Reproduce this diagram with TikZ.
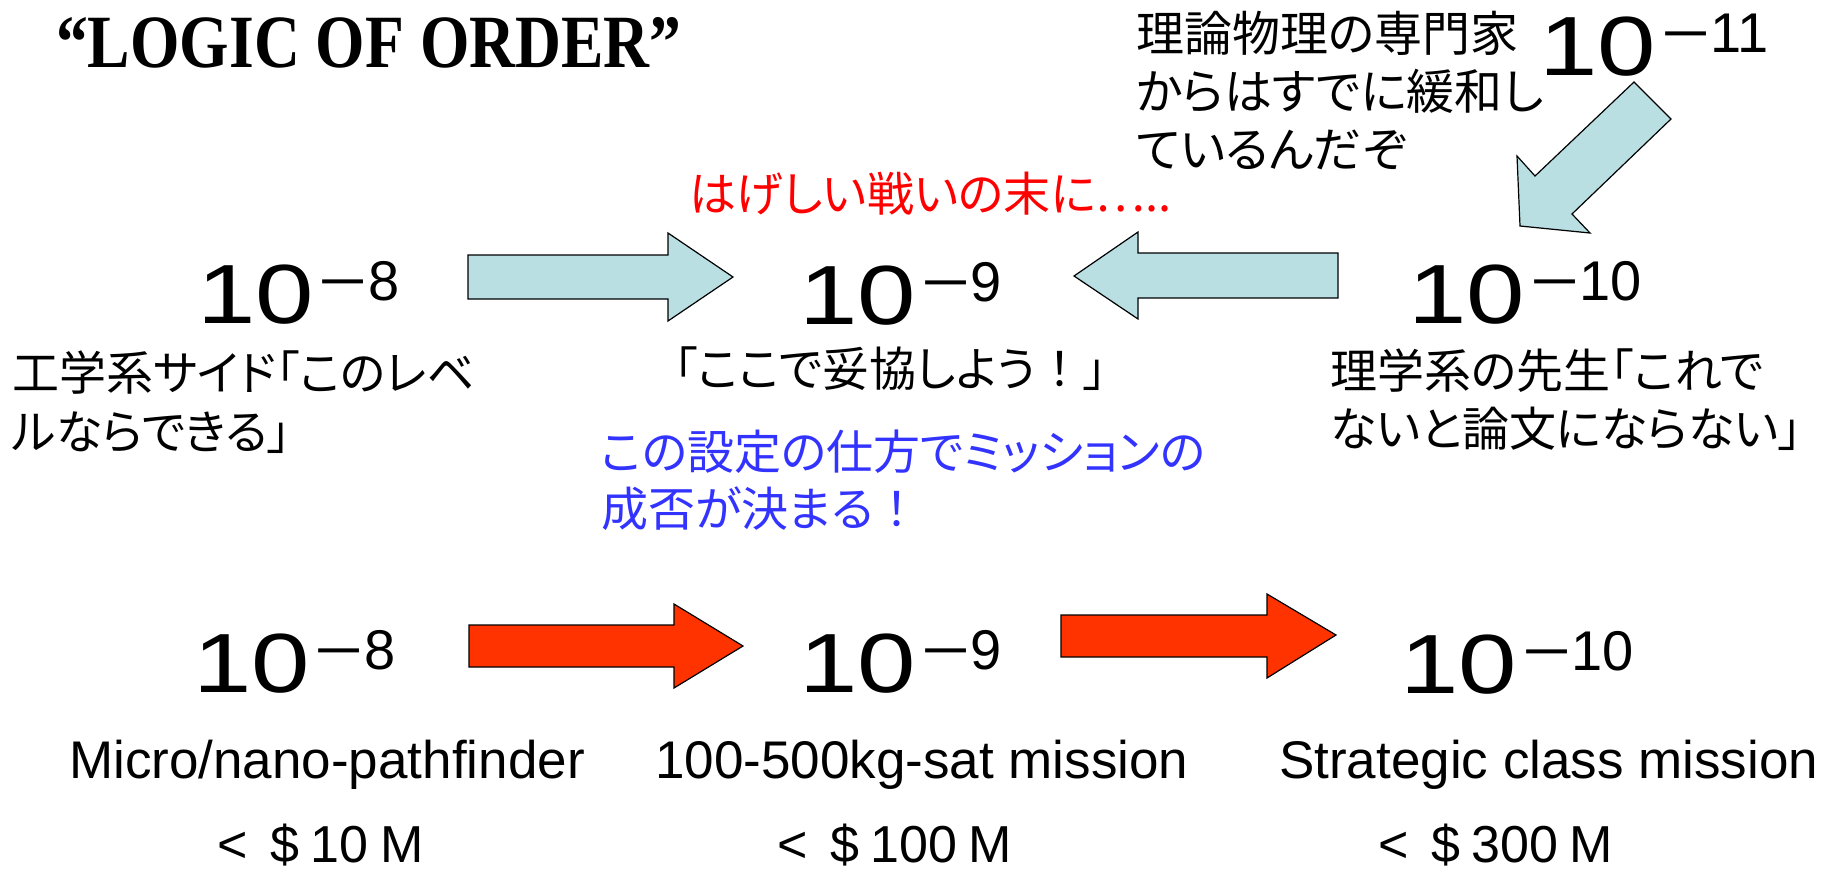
\documentclass[tikz,border=0pt]{standalone}
\usepackage{fontspec}
\usepackage{graphicx}
\setmainfont{Liberation Sans}
\newfontfamily\jpfont[RawFeature={+palt}]{Noto Sans CJK JP}
\newfontfamily\jpfw{Noto Sans CJK JP}
\newfontfamily\titlefont{Liberation Serif}
\definecolor{arrowblue}{RGB}{185,223,227}
\definecolor{arrowred}{RGB}{255,51,0}
\definecolor{txtred}{RGB}{255,0,0}
\definecolor{txtblue}{RGB}{51,51,255}
\newcommand{\tenpow}[1]{\scalebox{1.25}[1]{\fontsize{84}{84}\selectfont 10}\kern5pt\raisebox{23pt}{\fontsize{56}{56}\selectfont\scalebox{1.5}[1]{−}#1}}
\newcommand{\fwbang}{{\jpfw ！}}
\newcommand{\tightsp}{\spaceskip=0.22em\relax}
\begin{document}
\begin{tikzpicture}[x=1pt,y=-1pt,
  jp/.style={font=\jpfont\fontsize{47}{58}\selectfont, inner sep=0pt, anchor=north west, align=left},
  lat/.style={font=\fontsize{53}{60}\selectfont, inner sep=0pt, anchor=base west},
  cost/.style={font=\fontsize{52}{60}\selectfont, inner sep=0pt, anchor=base west},
  pow/.style={inner sep=0pt, anchor=base west},
  barrow/.style={draw=black, line width=1.2pt, fill=arrowblue},
  rarrow/.style={draw=black, line width=1.2pt, fill=arrowred}]
\useasboundingbox (0,0) rectangle (1831,870);
% title
\node[inner sep=0pt, anchor=base west] (title) at (56,67)
  {\resizebox{625pt}{50pt}{\titlefont\bfseries “LOGIC OF ORDER”}};
% powers of ten, upper row
\node[pow] (t11) at (1539,75) {\tenpow{11}};
\node[pow] (t8) at (197,323) {\tenpow{8}};
\node[pow] (t9) at (799,324) {\tenpow{9}};
\node[pow] (t10) at (1408,323) {\tenpow{10}};
% lower row
\node[pow] (b8) at (193,692) {\tenpow{8}};
\node[pow] (b9) at (799,692) {\tenpow{9}};
\node[pow] (b10) at (1400,693) {\tenpow{10}};
% japanese texts
\node[jp, font=\jpfont\fontsize{48}{58}\selectfont] (theory) at (1136,11)
  {理論物理の専門家\\からはすでに緩和し\\ているんだぞ};
\node[jp, text=txtred] (battle) at (689,172) {はげしい戦いの末に…..};
\node[jp, font=\jpfont\fontsize{47}{59}\selectfont] (eng) at (12,351) {工学系サイド「このレベ\\ルならできる」};
\node[jp] (comp) at (674,347) {「ここで妥協しよう\fwbang」};
\node[jp] (sci) at (1330,349) {理学系の先生「これで\\ないと論文にならない」};
\node[jp, font=\jpfont\fontsize{47}{57}\selectfont, text=txtblue] (set) at (601,430)
  {この設定の仕方でミッションの\\成否が決まる\fwbang};
% mission names
\node[lat] (m1) at (69,778) {Micro/nano-pathfinder};
\node[lat] (m2) at (655,778) {100-500kg-sat mission};
\node[lat] (m3) at (1279,778) {Strategic class mission};
\node[cost] (c1) at (217,862) {\tightsp <\ \ \$ 10 M};
\node[cost] (c2) at (777,862) {\tightsp <\ \ \$ 100 M};
\node[cost] (c3) at (1378,862) {\tightsp <\ \ \$ 300 M};
% block arrows, upper row
\draw[barrow] (468,255) -- (668,255) -- (668,233) -- (733,277) -- (668,321) -- (668,299) -- (468,299) -- cycle;
\draw[barrow] (1338,253) -- (1138,253) -- (1138,232) -- (1074,276) -- (1138,319) -- (1138,298) -- (1338,298) -- cycle;
\draw[barrow] (1634,82) -- (1671,119) -- (1572,214) -- (1590,233) -- (1520,226) -- (1517,156) -- (1535,176) -- cycle;
% block arrows, lower row
\draw[rarrow] (469,625) -- (674,625) -- (674,604) -- (743,646) -- (674,688) -- (674,667) -- (469,667) -- cycle;
\draw[rarrow] (1061,615) -- (1267,615) -- (1267,594) -- (1336,635) -- (1267,678) -- (1267,657) -- (1061,657) -- cycle;
\end{tikzpicture}
\end{document}
